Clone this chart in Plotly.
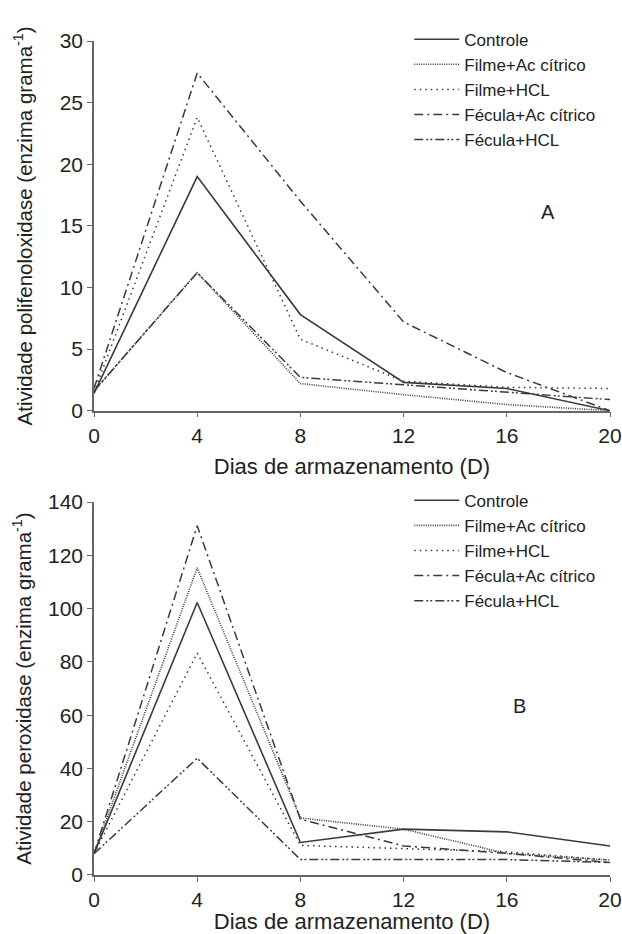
import plotly.graph_objects as go

days = [0, 4, 8, 12, 16, 20]
series_names = ["Controle", "Filme+Ac cítrico", "Filme+HCL", "Fécula+Ac cítrico", "Fécula+HCL"]

# Panel A - polifenoloxidase
ppo_controle = [1.4, 19.0, 7.8, 2.3, 1.8, 0.0]
ppo_filme_ac = [1.6, 11.2, 2.2, 1.3, 0.5, 0.0]
ppo_filme_hcl = [1.5, 23.8, 5.8, 2.4, 1.9, 1.8]
ppo_fecula_ac = [1.8, 27.4, 17.0, 7.2, 3.1, 0.0]
ppo_fecula_hcl = [1.6, 11.2, 2.7, 2.1, 1.5, 0.9]

# Panel B - peroxidase
pod_controle = [8.0, 102.3, 12.2, 17.2, 16.2, 10.9]
pod_filme_ac = [8.0, 115.3, 21.4, 17.2, 8.1, 5.6]
pod_filme_hcl = [8.0, 83.3, 11.1, 9.9, 8.7, 5.6]
pod_fecula_ac = [8.0, 131.1, 20.9, 10.9, 8.1, 4.7]
pod_fecula_hcl = [8.0, 43.8, 5.8, 5.8, 5.8, 4.7]

x_ticks = [0, 4, 8, 12, 16, 20]
ppo_ticks = [0, 5, 10, 15, 20, 25, 30]
pod_ticks = [0, 20, 40, 60, 80, 100, 120, 140]

LINE = "#3a3a3a"
dashes = ["solid", "1px,1.3px", "1.5px,4px", "9px,4px,2px,4px", "9px,3px,2px,2px,2px,3px"]
widths = [1.6, 1.6, 1.5, 1.5, 1.5]

ppo = [ppo_controle, ppo_filme_ac, ppo_filme_hcl, ppo_fecula_ac, ppo_fecula_hcl]
pod = [pod_controle, pod_filme_ac, pod_filme_hcl, pod_fecula_ac, pod_fecula_hcl]

fig = go.Figure()
for name, vals, d, w in zip(series_names, ppo, dashes, widths):
    fig.add_trace(go.Scatter(x=days, y=vals, mode="lines", name=name,
                             line=dict(color=LINE, dash=d, width=w),
                             xaxis="x", yaxis="y", legend="legend"))
for name, vals, d, w in zip(series_names, pod, dashes, widths):
    fig.add_trace(go.Scatter(x=days, y=vals, mode="lines", name=name,
                             line=dict(color=LINE, dash=d, width=w),
                             xaxis="x2", yaxis="y2", legend="legend2"))

FONT = "Arial"
TXT = "#222"
axis_common = dict(showgrid=False, zeroline=False, showline=True, linecolor="#666",
                   linewidth=1.5, ticks="outside", ticklen=5, tickcolor="#666",
                   automargin=False,
                   tickfont=dict(size=21, color=TXT, family=FONT))

fig.update_layout(
    width=622, height=934,
    margin=dict(l=94, r=12, t=41, b=59),
    paper_bgcolor="white", plot_bgcolor="white",
    font=dict(family=FONT, color=TXT),
    xaxis=dict(domain=[0, 1], range=[0, 20], tickvals=x_ticks, anchor="y",
               title=dict(text="Dias de armazenamento (D)", font=dict(size=22), standoff=13),
               **axis_common),
    yaxis=dict(domain=[0.5567, 1.0], range=[0, 30], tickvals=ppo_ticks, anchor="x",
               title=dict(text="Atividade polifenoloxidase (enzima grama<sup>-1</sup>)",
                          font=dict(size=20.5), standoff=22),
               **axis_common),
    xaxis2=dict(domain=[0, 1], range=[0, 20], tickvals=x_ticks, anchor="y2",
                title=dict(text="Dias de armazenamento (D)", font=dict(size=22), standoff=8),
                **axis_common),
    yaxis2=dict(domain=[0, 0.4472], range=[0, 140], tickvals=pod_ticks, anchor="x2",
                title=dict(text="Atividade peroxidase (enzima grama<sup>-1</sup>)",
                           font=dict(size=20.5), standoff=11),
                **axis_common),
    legend=dict(x=0.611, y=1.0232, xanchor="left", yanchor="top", bgcolor="rgba(0,0,0,0)",
                font=dict(size=17, color=TXT), tracegroupgap=0, itemwidth=45),
    legend2=dict(x=0.611, y=0.4704, xanchor="left", yanchor="top", bgcolor="rgba(0,0,0,0)",
                 font=dict(size=17, color=TXT), tracegroupgap=0, itemwidth=45),
    annotations=[
        dict(x=17.6, y=16.1, xref="x", yref="y", text="A", showarrow=False,
             font=dict(size=20, color=TXT)),
        dict(x=16.5, y=63.5, xref="x2", yref="y2", text="B", showarrow=False,
             font=dict(size=20, color=TXT)),
    ],
)

fig.write_html("out.html",
               config={"displayModeBar": False},
               post_script="document.body.style.margin='0';document.body.style.overflow='hidden';")
